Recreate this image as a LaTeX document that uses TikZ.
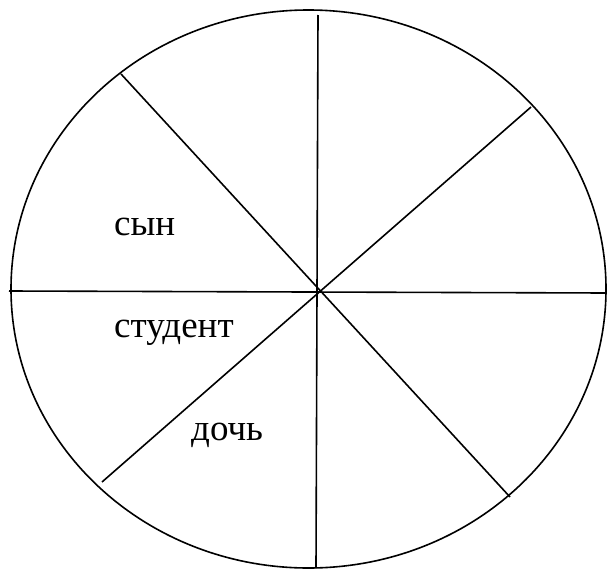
\documentclass[tikz,border=0pt]{standalone}
\usepackage{fontspec}
\setmainfont{Liberation Serif}
\tikzset{
  edge/.style={line width=1.6pt, black},
  lbl/.style={anchor=base west, inner sep=0pt, font=\fontsize{37}{44}\selectfont}
}
\begin{document}
\begin{tikzpicture}[x=1pt,y=-1pt]
\useasboundingbox (0,0) rectangle (607,570);
\draw[edge] (308.5,289) ellipse [x radius=297.5, y radius=279];
\coordinate (vt) at (318,15);
\coordinate (vb) at (316,568);
\coordinate (hl) at (9,291);
\coordinate (hr) at (607,293);
\coordinate (d1a) at (121,74);
\coordinate (d1b) at (510,497);
\coordinate (d2a) at (531,107);
\coordinate (d2b) at (102,482);
\draw[edge] (vt) -- (vb);
\draw[edge] (hl) -- (hr);
\draw[edge] (d1a) -- (d1b);
\draw[edge] (d2a) -- (d2b);
\node[lbl] (son) at (114,235) {сын};
\node[lbl] (student) at (114,337) {студент};
\node[lbl] (daughter) at (191,440) {дочь};
\end{tikzpicture}
\end{document}
